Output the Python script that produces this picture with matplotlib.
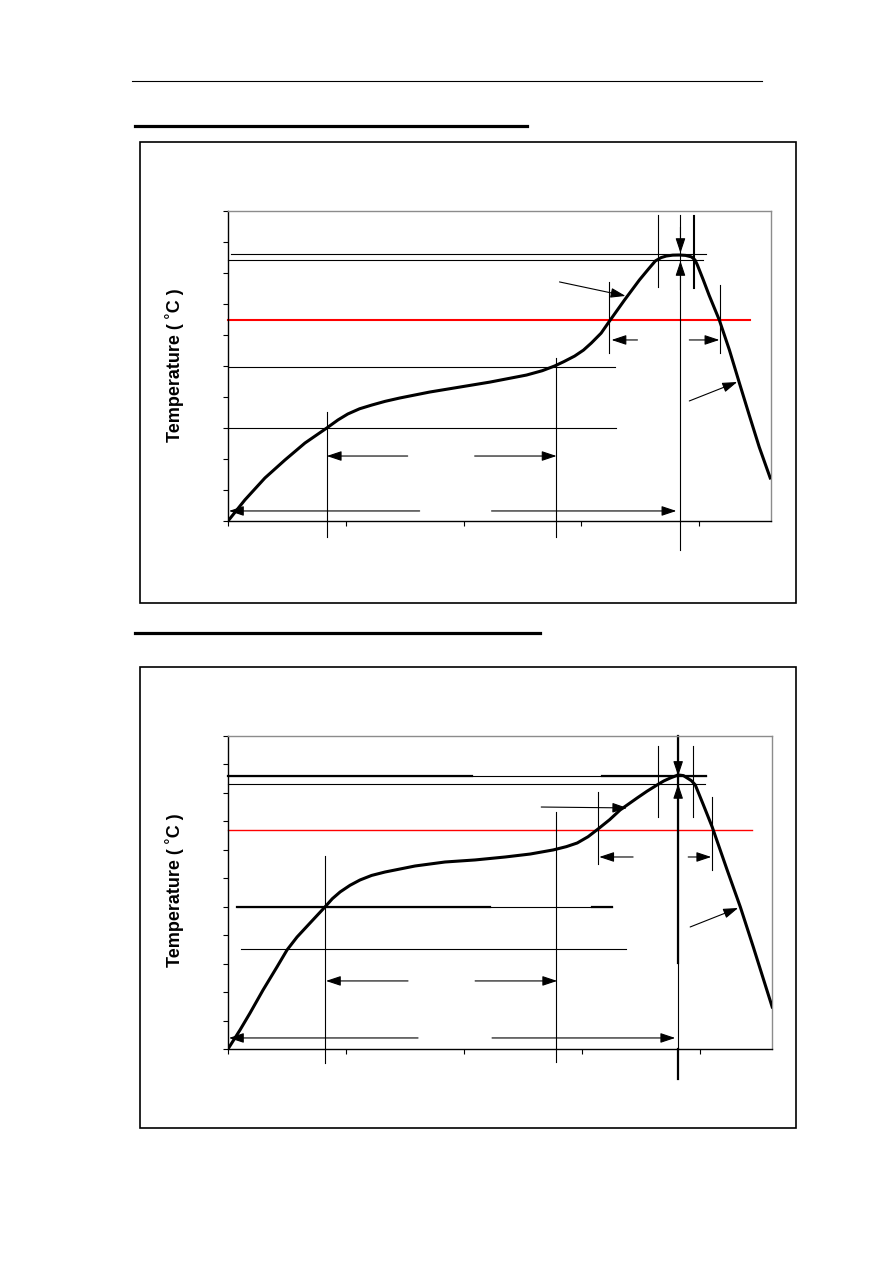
import matplotlib
matplotlib.use("Agg")
import matplotlib.pyplot as plt
from matplotlib.patches import Rectangle

plt.rcParams['font.family'] = ['Liberation Sans', 'DejaVu Sans']

# ---- data (time in s, temperature in degC) ----
x_ticks = [0, 60, 120, 180, 240]
top_y_ticks = list(range(25, 276, 25))
bottom_y_ticks = list(range(25, 301, 25))

top_time = [0, 8.6, 18.8, 29, 39.2, 50.3, 56, 61, 67, 73.2, 80, 87.5, 102.7, 118, 133.3,
            152, 160, 166.3, 171, 176.5, 181, 185, 190, 194.3, 201.9, 209.5, 214,
            217.6, 220.5, 223.2, 226.5, 229.8, 233, 236, 237.8, 239, 242, 245, 250.2,
            255.3, 260.4, 265.4, 270.5, 276.1]
top_temp = [25, 42, 59.7, 74.2, 87.9, 100, 106.5, 111.3, 115.5, 118.5, 121.5, 124.2, 129,
            133, 137, 142.7, 146.2, 150, 153.5, 158, 162.8, 168.5, 176.5, 186.3, 203.2,
            219.4, 228, 234.7, 237.4, 238.7, 239.4, 239.5, 239.2, 238, 235.5, 231.5,
            219.5, 207, 187, 163, 136.3, 110.5, 84.7, 59.7]

bottom_time = [0, 6.1, 11.2, 17.8, 24.9, 30, 35.1, 41.7, 49.3, 53, 57, 62, 67.1, 73,
               79.8, 95.1, 110.3, 125.6, 140.9, 153.6, 165.3, 172, 177.5, 183, 188.1,
               194, 199.3, 208, 213, 218.1, 221.5, 224.8, 228.8, 231.5, 233.4, 235.5,
               237.5, 241.5, 246.1, 253.7, 260.4, 267, 276.6]
bottom_temp = [25, 41.7, 56.6, 76.8, 97.1, 112, 123.4, 135.7, 149.8, 157, 163, 168.8,
               173.5, 177.5, 180.5, 185.8, 189.3, 191.1, 193.7, 196.3, 199.9, 202.8, 206,
               211.5, 218.3, 226.5, 235, 245.6, 251.5, 257, 260.5, 263.1, 265.8, 265.2,
               263.1, 260.8, 257, 240, 220.1, 182.3, 149.8, 114.6, 61.9]

# horizontal reference lines: (temp, t_start, t_end, linewidth, colour)
top_hlines = [(240.3, 1.5, 243.6, 0.8, 'black'),
              (235.5, 0, 242.0, 0.8, 'black'),
              (187.0, 0, 266.0, 1.5, 'red'),
              (149.2, 0, 197.0, 0.8, 'black'),
              (100.0, 0, 197.5, 0.8, 'black')]
bottom_hlines = [(264.9, 0, 243.1, 0.8, 'black'),
                 (264.9, 0, 124.1, 1.6, 'black'),
                 (264.9, 190.2, 243.1, 1.6, 'black'),
                 (257.9, 0, 242.6, 0.8, 'black'),
                 (217.4, 0, 266.5, 1.0, 'red'),
                 (149.8, 4.6, 195.3, 0.8, 'black'),
                 (149.8, 4.6, 133.2, 1.6, 'black'),
                 (149.8, 185.1, 195.3, 1.6, 'black'),
                 (112.9, 6.6, 202.4, 0.8, 'black')]

# vertical reference lines: (time, temp_low, temp_high, linewidth)
top_vlines = [(50.3, 12.1, 112.9, 0.8),
              (166.8, 12.1, 156.5, 0.8),
              (230.4, 1.6, 271.8, 0.8),
              (219.2, 213.7, 271.8, 0.8),
              (237.5, 212.9, 271.0, 1.5),
              (194.2, 160.5, 217.8, 0.8),
              (250.7, 160.5, 215.3, 0.8)]
bottom_vlines = [(49.3, 12.7, 194.6, 0.8),
                 (166.8, 13.6, 233.3, 0.8),
                 (228.8, 25.0, 300.0, 0.8),
                 (228.8, 100.6, 300.0, 1.6),
                 (228.8, -1.4, 25.0, 1.6),
                 (218.7, 228.9, 291.2, 0.8),
                 (236.5, 228.9, 291.2, 0.8),
                 (188.1, 187.6, 250.8, 0.8),
                 (246.1, 182.3, 246.4, 0.8)]

# arrows: (t_from, temp_from, t_to, temp_to)
top_arrows = [(91.5, 77.4, 50.3, 77.4),
              (125.6, 77.4, 167.3, 77.4),
              (97.6, 33.1, 0.5, 33.1),
              (134.2, 33.1, 228.3, 33.1),
              (230.4, 262.0, 230.4, 241.1),
              (230.4, 211.3, 230.4, 234.7),
              (208.5, 171.0, 195.3, 171.0),
              (234.9, 171.0, 250.2, 171.0),
              (168.8, 217.8, 202.4, 206.5),
              (234.9, 121.8, 259.3, 137.1)]
bottom_arrows = [(91.5, 84.8, 49.8, 84.8),
                 (125.6, 84.8, 167.3, 84.8),
                 (96.6, 34.7, 0.5, 34.7),
                 (134.2, 34.7, 227.3, 34.7),
                 (228.8, 287.7, 228.8, 264.9),
                 (228.8, 243.8, 228.8, 257.9),
                 (205.9, 193.7, 188.7, 193.7),
                 (233.9, 193.7, 245.6, 193.7),
                 (159.2, 237.6, 202.9, 236.8),
                 (234.9, 132.2, 259.3, 148.9)]


def draw_profile(ax, time, temp, yticks, hlines, vlines, arrows):
    ax.set_xlim(0, 276.5)
    ax.set_ylim(yticks[0], yticks[-1])
    ax.set_xticks(x_ticks)
    ax.set_yticks(yticks)
    ax.set_xticklabels([])
    ax.set_yticklabels([])
    ax.tick_params(direction='out', length=3.5, width=0.8, colors='black')
    for side in ['top', 'right']:
        ax.spines[side].set_color('#8c8c8c')
        ax.spines[side].set_linewidth(1.0)
    for side in ['left', 'bottom']:
        ax.spines[side].set_color('black')
        ax.spines[side].set_linewidth(1.0)

    for T, t0, t1, lw, c in hlines:
        ax.plot([t0, t1], [T, T], color=c, lw=lw, clip_on=False, zorder=2)
    for t, T0, T1, lw in vlines:
        ax.plot([t, t], [T0, T1], color='black', lw=lw, clip_on=False, zorder=2)
    ax.plot(time, temp, color='black', lw=2.2, solid_joinstyle='round', zorder=3)
    for t0, T0, t1, T1 in arrows:
        ax.annotate('', xy=(t1, T1), xytext=(t0, T0), annotation_clip=False,
                    arrowprops=dict(arrowstyle='-|>,head_length=0.9,head_width=0.3',
                                    mutation_scale=10, lw=0.8,
                                    color='black', shrinkA=0, shrinkB=0))


W, H = 892, 1263
fig = plt.figure(figsize=(W / 100, H / 100), dpi=100)


def px_axes(x0, y0, x1, y1):
    return fig.add_axes([x0 / W, 1 - y1 / H, (x1 - x0) / W, (y1 - y0) / H])


# page decoration
page = fig.add_axes([0, 0, 1, 1])
page.set_xlim(0, W)
page.set_ylim(H, 0)
page.axis('off')
page.plot([132, 762], [81, 81], color='black', lw=0.8)
page.plot([135, 527], [126, 126], color='black', lw=2.3)
page.plot([135, 540], [633, 633], color='black', lw=2.3)
page.add_patch(Rectangle((140, 142), 656, 461, fill=False, lw=1.2, ec='black'))
page.add_patch(Rectangle((140, 667), 656, 461, fill=False, lw=1.2, ec='black'))

ax1 = px_axes(228, 211, 771, 521)
draw_profile(ax1, top_time, top_temp, top_y_ticks, top_hlines, top_vlines, top_arrows)

ax2 = px_axes(228, 736, 772, 1049)
draw_profile(ax2, bottom_time, bottom_temp, bottom_y_ticks, bottom_hlines, bottom_vlines, bottom_arrows)

label = 'Temperature ( \u02daC )'
fig.text(175 / W, 1 - 365 / H, label, rotation=90, ha='center', va='center',
         fontsize=13, fontweight='bold')
fig.text(175 / W, 1 - 890 / H, label, rotation=90, ha='center', va='center',
         fontsize=13, fontweight='bold')

fig.savefig('out.png', dpi=100)
